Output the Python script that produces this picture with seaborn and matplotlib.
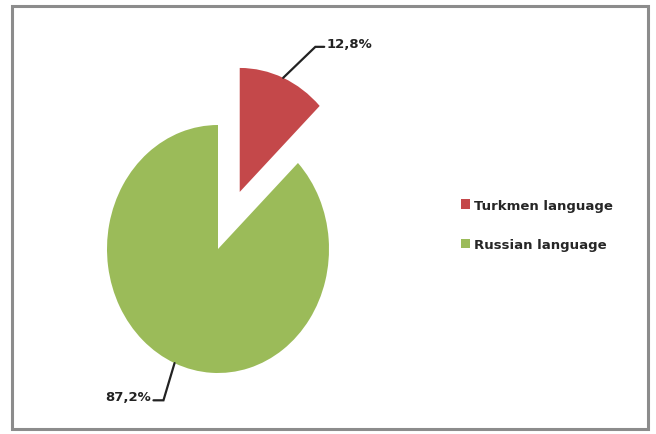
import numpy as np
import matplotlib
matplotlib.use("Agg")
import matplotlib.pyplot as plt
from matplotlib.patches import Patch, Rectangle
import seaborn as sns

# dados do grafico
languages = ["Turkmen language", "Russian language"]
shares = [12.8, 87.2]
share_labels = ["12,8%", "87,2%"]
colors = ["#C4484A", "#9BBB59"]
explode = [0.5, 0.0]

sns.set_theme(style="white")
plt.rcParams["font.family"] = ["DejaVu Sans"]

fig = plt.figure(figsize=(6.56, 4.35), dpi=100)
fig.patch.set_facecolor("white")

# moldura cinza em volta do grafico
fig.patches.append(Rectangle((12 / 656, 5 / 435), 636 / 656, 423 / 435,
                             transform=fig.transFigure, fill=False,
                             edgecolor="#8c8c8c", linewidth=2.2))

ax = fig.add_axes([0, 0, 1, 1])
wedges, _ = ax.pie(shares, colors=colors, explode=explode, startangle=90,
                   counterclock=False, radius=1, frame=True,
                   wedgeprops=dict(linewidth=0))

# escala em pixels: 1 unidade = 111 px na horizontal e 124 px na vertical
cx, cy, rx, ry = 218, 250, 111, 124
ax.set_xlim(-cx / rx, (656 - cx) / rx)
ax.set_ylim(-(435 - cy) / ry, cy / ry)
ax.set_aspect("auto")
ax.axis("off")

# linhas de chamada e rotulos
for w, ex, lab in zip(wedges, explode, share_labels):
    mid = np.deg2rad((w.theta1 + w.theta2) / 2)
    ux, uy = np.cos(mid), np.sin(mid)
    x0, y0 = (1 + ex) * ux, (1 + ex) * uy
    if ux > 0:
        x1, y1 = x0 + 0.29, y0 + 0.25
        x2 = x1 + 0.08
        tx, ha = x2 + 0.02, "left"
    else:
        x1, y1 = x0 - 0.10, y0 - 0.30
        x2 = x1 - 0.09
        tx, ha = x2 - 0.02, "right"
    ax.plot([x0, x1, x2], [y0, y1, y1], color="#222222", lw=1.6,
            solid_joinstyle="miter")
    ax.text(tx, y1 + 0.03, lab, ha=ha, va="center", fontsize=9.5,
            fontweight="bold", color="#222222")

handles = [Patch(facecolor=c, edgecolor="none") for c in colors]
fig.legend(handles, languages, loc="upper left",
           bbox_to_anchor=(454 / 656, 1 - 193 / 435),
           bbox_transform=fig.transFigure, frameon=False, borderpad=0,
           handlelength=0.75, handleheight=0.75, handletextpad=0.3,
           labelspacing=2.0, prop=dict(size=9.5, weight="bold"))

fig.savefig("out.png", dpi=100, facecolor="white")
